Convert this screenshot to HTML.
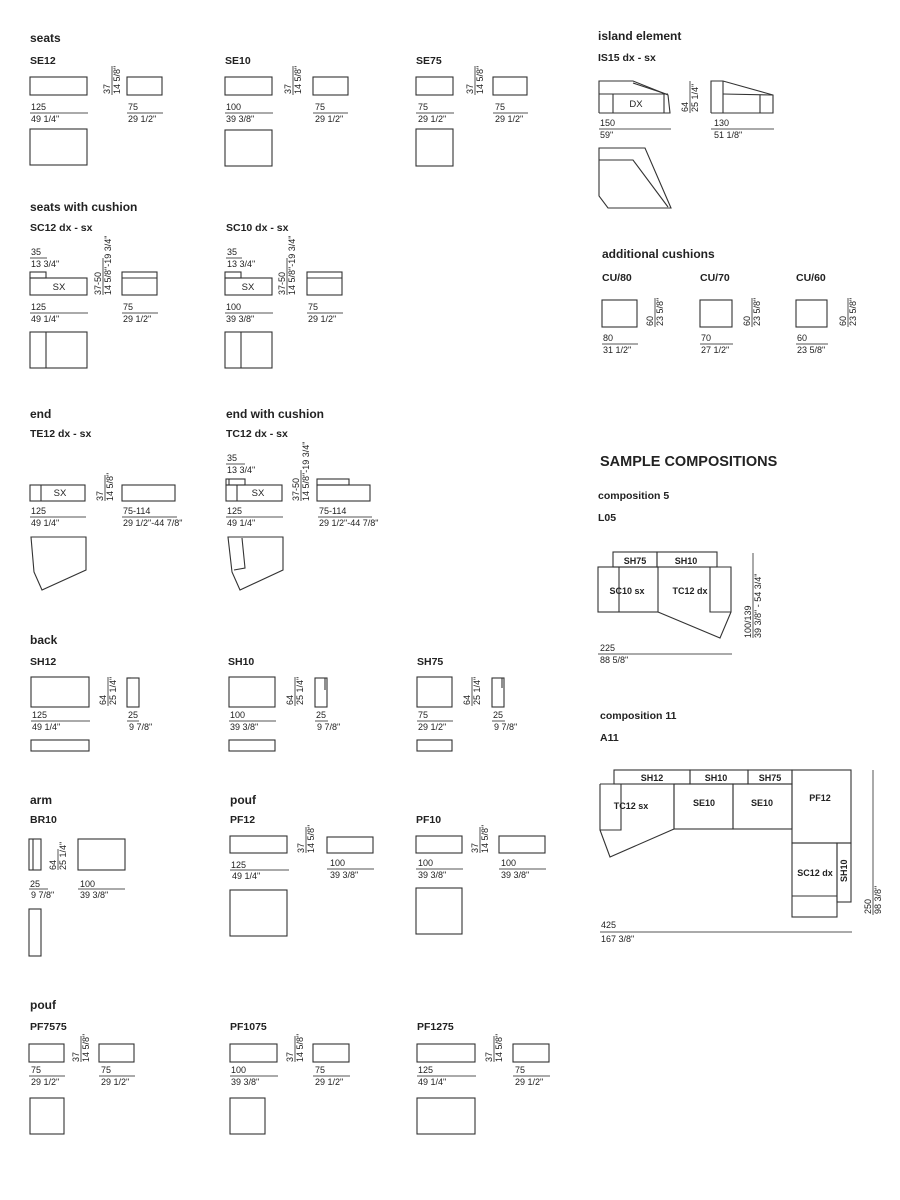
<!DOCTYPE html>
<html><head><meta charset="utf-8"><style>
html,body{margin:0;padding:0;background:#fff;}
svg{display:block;}
text{font-family:"Liberation Sans",sans-serif;fill:#222;}
.h{font-size:12px;font-weight:bold;}
.c{font-size:10.5px;font-weight:bold;}
.d{font-size:9px;}
.l{font-size:9.5px;}
.b{font-size:9px;font-weight:bold;}
rect,polygon,polyline,line{fill:none;stroke:#333;stroke-width:1.1;}
.dl{stroke:#555;stroke-width:1;}
</style></head><body>
<svg width="900" height="1200" viewBox="0 0 900 1200" xmlns="http://www.w3.org/2000/svg">

<!-- seats -->
<text x="30" y="42" class="h">seats</text>
<text x="30" y="64" class="c">SE12</text>
<rect x="30" y="77" width="57" height="18"/><line x1="30" y1="95" x2="87" y2="95" stroke-width="2"/>
<line class="dl" x1="112" y1="66" x2="112" y2="95"/>
<text class="d" transform="translate(110,94) rotate(-90)">37</text>
<text class="d" transform="translate(120,94) rotate(-90)">14 5/8"</text>
<rect x="127" y="77" width="35" height="18"/>
<text x="31" y="110" class="d">125</text><line class="dl" x1="30" y1="113" x2="88" y2="113"/><text x="31" y="122" class="d">49 1/4"</text>
<text x="128" y="110" class="d">75</text><line class="dl" x1="127" y1="113" x2="163" y2="113"/><text x="128" y="122" class="d">29 1/2"</text>
<rect x="30" y="129" width="57" height="36"/>

<text x="225" y="64" class="c">SE10</text>
<rect x="225" y="77" width="47" height="18"/><line x1="225" y1="95" x2="272" y2="95" stroke-width="2"/>
<line class="dl" x1="293" y1="66" x2="293" y2="95"/>
<text class="d" transform="translate(291,94) rotate(-90)">37</text>
<text class="d" transform="translate(301,94) rotate(-90)">14 5/8"</text>
<rect x="313" y="77" width="35" height="18"/>
<text x="226" y="110" class="d">100</text><line class="dl" x1="225" y1="113" x2="273" y2="113"/><text x="226" y="122" class="d">39 3/8"</text>
<text x="315" y="110" class="d">75</text><line class="dl" x1="313" y1="113" x2="348" y2="113"/><text x="315" y="122" class="d">29 1/2"</text>
<rect x="225" y="130" width="47" height="36"/>

<text x="416" y="64" class="c">SE75</text>
<rect x="416" y="77" width="37" height="18"/><line x1="416" y1="95" x2="453" y2="95" stroke-width="2"/>
<line class="dl" x1="475" y1="66" x2="475" y2="95"/>
<text class="d" transform="translate(473,94) rotate(-90)">37</text>
<text class="d" transform="translate(483,94) rotate(-90)">14 5/8"</text>
<rect x="493" y="77" width="34" height="18"/>
<text x="418" y="110" class="d">75</text><line class="dl" x1="416" y1="113" x2="454" y2="113"/><text x="418" y="122" class="d">29 1/2"</text>
<text x="495" y="110" class="d">75</text><line class="dl" x1="493" y1="113" x2="528" y2="113"/><text x="495" y="122" class="d">29 1/2"</text>
<rect x="416" y="129" width="37" height="37"/>

<!-- seats with cushion -->
<text x="30" y="211" class="h">seats with cushion</text>
<text x="30" y="231" class="c">SC12  dx - sx</text>
<text x="31" y="255" class="d">35</text><line class="dl" x1="30" y1="258" x2="47" y2="258"/><text x="31" y="267" class="d">13 3/4"</text>
<rect x="30" y="272" width="16" height="6"/>
<rect x="30" y="278" width="57" height="17"/><line x1="30" y1="295" x2="87" y2="295" stroke-width="2"/>
<text x="59" y="290" class="l" text-anchor="middle">SX</text>
<line class="dl" x1="103" y1="258" x2="103" y2="295"/>
<text class="d" transform="translate(101,295) rotate(-90)">37-50</text>
<text class="d" transform="translate(111,295) rotate(-90)">14 5/8"-19 3/4"</text>
<rect x="122" y="272" width="35" height="23"/><line x1="122" y1="278" x2="157" y2="278"/>
<text x="31" y="310" class="d">125</text><line class="dl" x1="30" y1="313" x2="88" y2="313"/><text x="31" y="322" class="d">49 1/4"</text>
<text x="123" y="310" class="d">75</text><line class="dl" x1="122" y1="313" x2="158" y2="313"/><text x="123" y="322" class="d">29 1/2"</text>
<rect x="30" y="332" width="57" height="36"/><line x1="46" y1="332" x2="46" y2="368"/>

<text x="226" y="231" class="c">SC10  dx - sx</text>
<text x="227" y="255" class="d">35</text><line class="dl" x1="226" y1="258" x2="242" y2="258"/><text x="227" y="267" class="d">13 3/4"</text>
<rect x="225" y="272" width="16" height="6"/>
<rect x="225" y="278" width="47" height="17"/><line x1="225" y1="295" x2="272" y2="295" stroke-width="2"/>
<text x="248" y="290" class="l" text-anchor="middle">SX</text>
<line class="dl" x1="287" y1="258" x2="287" y2="295"/>
<text class="d" transform="translate(285,295) rotate(-90)">37-50</text>
<text class="d" transform="translate(295,295) rotate(-90)">14 5/8"-19 3/4"</text>
<rect x="307" y="272" width="35" height="23"/><line x1="307" y1="278" x2="342" y2="278"/>
<text x="226" y="310" class="d">100</text><line class="dl" x1="225" y1="313" x2="273" y2="313"/><text x="226" y="322" class="d">39 3/8"</text>
<text x="308" y="310" class="d">75</text><line class="dl" x1="307" y1="313" x2="343" y2="313"/><text x="308" y="322" class="d">29 1/2"</text>
<rect x="225" y="332" width="47" height="36"/><line x1="241" y1="332" x2="241" y2="368"/>

<!-- end -->
<text x="30" y="418" class="h">end</text>
<text x="30" y="437" class="c">TE12  dx - sx</text>
<rect x="30" y="485" width="55" height="16"/><line x1="41" y1="485" x2="41" y2="501"/><line x1="30" y1="501" x2="85" y2="501" stroke-width="2"/>
<text x="60" y="496" class="l" text-anchor="middle">SX</text>
<line class="dl" x1="105" y1="475" x2="105" y2="501"/>
<text class="d" transform="translate(103,501) rotate(-90)">37</text>
<text class="d" transform="translate(113,501) rotate(-90)">14 5/8"</text>
<rect x="122" y="485" width="53" height="16"/><line x1="122" y1="501" x2="175" y2="501" stroke-width="2"/>
<text x="31" y="514" class="d">125</text><line class="dl" x1="30" y1="517" x2="86" y2="517"/><text x="31" y="526" class="d">49 1/4"</text>
<text x="123" y="514" class="d">75-114</text><line class="dl" x1="122" y1="517" x2="177" y2="517"/><text x="123" y="526" class="d">29 1/2"-44 7/8"</text>
<polygon points="31,537 86,537 86,570 42,590 34,572"/>

<text x="226" y="418" class="h">end with cushion</text>
<text x="226" y="437" class="c">TC12  dx - sx</text>
<text x="227" y="461" class="d">35</text><line class="dl" x1="226" y1="464" x2="245" y2="464"/><text x="227" y="473" class="d">13 3/4"</text>
<rect x="226" y="479" width="19" height="6"/><line x1="229" y1="479" x2="229" y2="485"/>
<rect x="226" y="485" width="56" height="16"/><line x1="237" y1="485" x2="237" y2="501"/><line x1="226" y1="501" x2="282" y2="501" stroke-width="2"/>
<text x="258" y="496" class="l" text-anchor="middle">SX</text>
<line class="dl" x1="301" y1="470" x2="301" y2="501"/>
<text class="d" transform="translate(299,501) rotate(-90)">37-50</text>
<text class="d" transform="translate(309,501) rotate(-90)">14 5/8"-19 3/4"</text>
<rect x="317" y="479" width="32" height="6"/>
<rect x="317" y="485" width="53" height="16"/><line x1="317" y1="501" x2="370" y2="501" stroke-width="2"/>
<text x="227" y="514" class="d">125</text><line class="dl" x1="226" y1="517" x2="283" y2="517"/><text x="227" y="526" class="d">49 1/4"</text>
<text x="319" y="514" class="d">75-114</text><line class="dl" x1="318" y1="517" x2="372" y2="517"/><text x="319" y="526" class="d">29 1/2"-44 7/8"</text>
<polygon points="228,537 283,537 283,570 240,590 232,572"/>
<polyline points="242,538 245,568 234,570"/>

<!-- back -->
<text x="30" y="644" class="h">back</text>
<text x="30" y="665" class="c">SH12</text>
<rect x="31" y="677" width="58" height="30"/>
<line class="dl" x1="108" y1="677" x2="108" y2="706"/>
<text class="d" transform="translate(106,705) rotate(-90)">64</text>
<text class="d" transform="translate(116,705) rotate(-90)">25 1/4"</text>
<rect x="127" y="678" width="12" height="29"/><line x1="127" y1="678" x2="131" y2="678" stroke-width="2"/>
<text x="32" y="718" class="d">125</text><line class="dl" x1="31" y1="721" x2="90" y2="721"/><text x="32" y="730" class="d">49 1/4"</text>
<text x="128" y="718" class="d">25</text><line class="dl" x1="127" y1="721" x2="139" y2="721"/><text x="129" y="730" class="d">9 7/8"</text>
<rect x="31" y="740" width="58" height="11"/>

<text x="228" y="665" class="c">SH10</text>
<rect x="229" y="677" width="46" height="30"/>
<line class="dl" x1="295" y1="677" x2="295" y2="706"/>
<text class="d" transform="translate(293,705) rotate(-90)">64</text>
<text class="d" transform="translate(303,705) rotate(-90)">25 1/4"</text>
<rect x="315" y="678" width="12" height="29"/><line x1="325" y1="678" x2="325" y2="690" stroke-width="2"/>
<text x="230" y="718" class="d">100</text><line class="dl" x1="229" y1="721" x2="276" y2="721"/><text x="230" y="730" class="d">39 3/8"</text>
<text x="316" y="718" class="d">25</text><line class="dl" x1="315" y1="721" x2="328" y2="721"/><text x="317" y="730" class="d">9 7/8"</text>
<rect x="229" y="740" width="46" height="11"/>

<text x="417" y="665" class="c">SH75</text>
<rect x="417" y="677" width="35" height="30"/>
<line class="dl" x1="472" y1="677" x2="472" y2="706"/>
<text class="d" transform="translate(470,705) rotate(-90)">64</text>
<text class="d" transform="translate(480,705) rotate(-90)">25 1/4"</text>
<rect x="492" y="678" width="12" height="29"/><line x1="502" y1="678" x2="502" y2="688" stroke-width="2"/>
<text x="418" y="718" class="d">75</text><line class="dl" x1="417" y1="721" x2="453" y2="721"/><text x="418" y="730" class="d">29 1/2"</text>
<text x="493" y="718" class="d">25</text><line class="dl" x1="492" y1="721" x2="505" y2="721"/><text x="494" y="730" class="d">9 7/8"</text>
<rect x="417" y="740" width="35" height="11"/>

<!-- arm -->
<text x="30" y="804" class="h">arm</text>
<text x="30" y="823" class="c">BR10</text>
<rect x="29" y="839" width="12" height="31"/><line x1="33" y1="839" x2="33" y2="870"/>
<line class="dl" x1="58" y1="849" x2="58" y2="870"/>
<text class="d" transform="translate(56,870) rotate(-90)">64</text>
<text class="d" transform="translate(66,870) rotate(-90)">25 1/4"</text>
<rect x="78" y="839" width="47" height="31"/>
<text x="30" y="887" class="d">25</text><line class="dl" x1="29" y1="889" x2="48" y2="889"/><text x="31" y="898" class="d">9 7/8"</text>
<text x="80" y="887" class="d">100</text><line class="dl" x1="78" y1="889" x2="125" y2="889"/><text x="80" y="898" class="d">39 3/8"</text>
<rect x="29" y="909" width="12" height="47"/>

<!-- pouf -->
<text x="230" y="804" class="h">pouf</text>
<text x="230" y="823" class="c">PF12</text>
<rect x="230" y="836" width="57" height="17"/>
<line class="dl" x1="306" y1="827" x2="306" y2="853"/>
<text class="d" transform="translate(304,853) rotate(-90)">37</text>
<text class="d" transform="translate(314,853) rotate(-90)">14 5/8"</text>
<rect x="327" y="837" width="46" height="16"/>
<text x="231" y="868" class="d">125</text><line class="dl" x1="230" y1="870" x2="289" y2="870"/><text x="232" y="879" class="d">49 1/4"</text>
<text x="330" y="866" class="d">100</text><line class="dl" x1="327" y1="869" x2="374" y2="869"/><text x="330" y="878" class="d">39 3/8"</text>
<rect x="230" y="890" width="57" height="46"/>

<text x="416" y="823" class="c">PF10</text>
<rect x="416" y="836" width="46" height="17"/>
<line class="dl" x1="480" y1="827" x2="480" y2="853"/>
<text class="d" transform="translate(478,853) rotate(-90)">37</text>
<text class="d" transform="translate(488,853) rotate(-90)">14 5/8"</text>
<rect x="499" y="836" width="46" height="17"/>
<text x="418" y="866" class="d">100</text><line class="dl" x1="416" y1="869" x2="463" y2="869"/><text x="418" y="878" class="d">39 3/8"</text>
<text x="501" y="866" class="d">100</text><line class="dl" x1="499" y1="869" x2="546" y2="869"/><text x="501" y="878" class="d">39 3/8"</text>
<rect x="416" y="888" width="46" height="46"/>

<!-- pouf 2 -->
<text x="30" y="1009" class="h">pouf</text>
<text x="30" y="1030" class="c">PF7575</text>
<rect x="29" y="1044" width="35" height="18"/>
<line class="dl" x1="81" y1="1036" x2="81" y2="1062"/>
<text class="d" transform="translate(79,1062) rotate(-90)">37</text>
<text class="d" transform="translate(89,1062) rotate(-90)">14 5/8"</text>
<rect x="99" y="1044" width="35" height="18"/>
<text x="31" y="1073" class="d">75</text><line class="dl" x1="29" y1="1076" x2="65" y2="1076"/><text x="31" y="1085" class="d">29 1/2"</text>
<text x="101" y="1073" class="d">75</text><line class="dl" x1="99" y1="1076" x2="135" y2="1076"/><text x="101" y="1085" class="d">29 1/2"</text>
<rect x="30" y="1098" width="34" height="36"/>

<text x="230" y="1030" class="c">PF1075</text>
<rect x="230" y="1044" width="47" height="18"/>
<line class="dl" x1="295" y1="1036" x2="295" y2="1062"/>
<text class="d" transform="translate(293,1062) rotate(-90)">37</text>
<text class="d" transform="translate(303,1062) rotate(-90)">14 5/8"</text>
<rect x="313" y="1044" width="36" height="18"/>
<text x="231" y="1073" class="d">100</text><line class="dl" x1="230" y1="1076" x2="278" y2="1076"/><text x="231" y="1085" class="d">39 3/8"</text>
<text x="315" y="1073" class="d">75</text><line class="dl" x1="313" y1="1076" x2="350" y2="1076"/><text x="315" y="1085" class="d">29 1/2"</text>
<rect x="230" y="1098" width="35" height="36"/>

<text x="417" y="1030" class="c">PF1275</text>
<rect x="417" y="1044" width="58" height="18"/>
<line class="dl" x1="494" y1="1036" x2="494" y2="1062"/>
<text class="d" transform="translate(492,1062) rotate(-90)">37</text>
<text class="d" transform="translate(502,1062) rotate(-90)">14 5/8"</text>
<rect x="513" y="1044" width="36" height="18"/>
<text x="418" y="1073" class="d">125</text><line class="dl" x1="417" y1="1076" x2="476" y2="1076"/><text x="418" y="1085" class="d">49 1/4"</text>
<text x="515" y="1073" class="d">75</text><line class="dl" x1="513" y1="1076" x2="550" y2="1076"/><text x="515" y="1085" class="d">29 1/2"</text>
<rect x="417" y="1098" width="58" height="36"/>

<!-- island element -->
<text x="598" y="40" class="h">island element</text>
<text x="598" y="61" class="c">IS15  dx - sx</text>
<polyline points="599,113 599,81 633,81 668,95 670,113 599,113"/>
<line x1="599" y1="81" x2="633" y2="81" stroke-width="2"/>
<line x1="599" y1="94" x2="668" y2="94"/>
<line x1="613" y1="94" x2="613" y2="113"/>
<line x1="633" y1="83" x2="666" y2="94"/>
<line x1="664" y1="94" x2="664" y2="113"/>
<text x="636" y="107" class="l" text-anchor="middle">DX</text>
<line class="dl" x1="690" y1="81" x2="690" y2="113"/>
<text class="d" transform="translate(688,112) rotate(-90)">64</text>
<text class="d" transform="translate(698,112) rotate(-90)">25 1/4"</text>
<polyline points="711,113 711,81 723,81 773,95 773,113 711,113"/>
<line x1="723" y1="81" x2="723" y2="113" stroke-width="2"/>
<line x1="723" y1="94" x2="773" y2="95"/>
<line x1="760" y1="95" x2="760" y2="113"/>
<text x="600" y="126" class="d">150</text><line class="dl" x1="599" y1="129" x2="671" y2="129"/><text x="600" y="138" class="d">59"</text>
<text x="714" y="126" class="d">130</text><line class="dl" x1="711" y1="129" x2="774" y2="129"/><text x="714" y="138" class="d">51 1/8"</text>
<polygon points="599,148 645,148 671,208 608,208 599,196"/>
<polyline points="599,160 633,160 668,207"/>

<!-- additional cushions -->
<text x="602" y="258" class="h">additional cushions</text>
<text x="602" y="281" class="c">CU/80</text>
<text x="700" y="281" class="c">CU/70</text>
<text x="796" y="281" class="c">CU/60</text>
<rect x="602" y="300" width="35" height="27"/>
<rect x="700" y="300" width="32" height="27"/>
<rect x="796" y="300" width="31" height="27"/>
<line class="dl" x1="655" y1="298" x2="655" y2="327"/>
<text class="d" transform="translate(653,326) rotate(-90)">60</text>
<text class="d" transform="translate(663,326) rotate(-90)">23 5/8"</text>
<line class="dl" x1="752" y1="298" x2="752" y2="327"/>
<text class="d" transform="translate(750,326) rotate(-90)">60</text>
<text class="d" transform="translate(760,326) rotate(-90)">23 5/8"</text>
<line class="dl" x1="848" y1="298" x2="848" y2="327"/>
<text class="d" transform="translate(846,326) rotate(-90)">60</text>
<text class="d" transform="translate(856,326) rotate(-90)">23 5/8"</text>
<text x="603" y="341" class="d">80</text><line class="dl" x1="602" y1="344" x2="638" y2="344"/><text x="603" y="353" class="d">31 1/2"</text>
<text x="701" y="341" class="d">70</text><line class="dl" x1="700" y1="344" x2="733" y2="344"/><text x="701" y="353" class="d">27 1/2"</text>
<text x="797" y="341" class="d">60</text><line class="dl" x1="796" y1="344" x2="828" y2="344"/><text x="797" y="353" class="d">23 5/8"</text>

<!-- sample compositions -->
<text x="600" y="466" style="font-size:14.5px;font-weight:bold">SAMPLE COMPOSITIONS</text>
<text x="598" y="499" class="c">composition 5</text>
<text x="598" y="521" class="c">L05</text>
<rect x="613" y="552" width="44" height="15"/>
<rect x="657" y="552" width="60" height="15"/>
<rect x="598" y="567" width="60" height="45"/>
<line x1="619" y1="567" x2="619" y2="612"/>
<polyline points="658,567 731,567 731,612 720,638 658,612"/>
<polyline points="710,567 710,612 731,612"/>
<text x="635" y="564" class="b" text-anchor="middle">SH75</text>
<text x="686" y="564" class="b" text-anchor="middle">SH10</text>
<text x="627" y="594" class="b" text-anchor="middle">SC10 sx</text>
<text x="690" y="594" class="b" text-anchor="middle">TC12 dx</text>
<text x="600" y="651" class="d">225</text><line class="dl" x1="598" y1="654" x2="732" y2="654"/><text x="600" y="663" class="d">88 5/8"</text>
<line class="dl" x1="753" y1="553" x2="753" y2="638"/>
<text class="d" transform="translate(751,638) rotate(-90)">100/139</text>
<text class="d" transform="translate(761,638) rotate(-90)">39 3/8" - 54 3/4"</text>

<text x="600" y="719" class="c">composition 11</text>
<text x="600" y="741" class="c">A11</text>
<rect x="614" y="770" width="76" height="14"/>
<rect x="690" y="770" width="58" height="14"/>
<rect x="748" y="770" width="44" height="14"/>
<rect x="792" y="770" width="59" height="73"/>
<polyline points="600,784 674,784 674,829 610,857 600,830 600,784"/>
<polyline points="606,784 621,784 621,830 600,830"/>
<rect x="674" y="784" width="59" height="45"/>
<rect x="733" y="784" width="59" height="45"/>
<rect x="792" y="843" width="45" height="74"/>
<line x1="792" y1="896" x2="837" y2="896"/>
<rect x="837" y="843" width="14" height="59"/>
<text x="652" y="781" class="b" text-anchor="middle">SH12</text>
<text x="716" y="781" class="b" text-anchor="middle">SH10</text>
<text x="770" y="781" class="b" text-anchor="middle">SH75</text>
<text x="820" y="801" class="b" text-anchor="middle">PF12</text>
<text x="631" y="809" class="b" text-anchor="middle">TC12 sx</text>
<text x="704" y="806" class="b" text-anchor="middle">SE10</text>
<text x="762" y="806" class="b" text-anchor="middle">SE10</text>
<text x="815" y="876" class="b" text-anchor="middle">SC12 dx</text>
<text class="b" transform="translate(847,882) rotate(-90)">SH10</text>
<text x="601" y="928" class="d">425</text><line class="dl" x1="600" y1="932" x2="852" y2="932"/><text x="601" y="942" class="d">167 3/8"</text>
<line class="dl" x1="873" y1="770" x2="873" y2="915"/>
<text class="d" transform="translate(871,914) rotate(-90)">250</text>
<text class="d" transform="translate(881,914) rotate(-90)">98 3/8"</text>
</svg>
</body></html>
